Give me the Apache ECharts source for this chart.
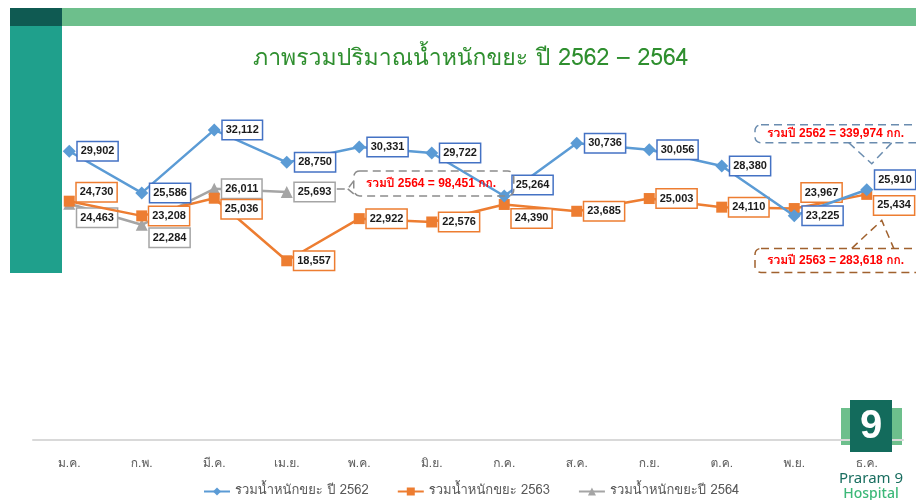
<!DOCTYPE html>
<html>
<head>
<meta charset="utf-8">
<script src="https://cdn.jsdelivr.net/npm/echarts@6/dist/echarts.min.js"></script>
<style>
html,body{margin:0;padding:0;background:#fff;}
#chart{width:916px;height:500px;}
</style>
</head>
<body>
<div id="chart"></div>
<script>
// ---- data ----
const categories = ['ม.ค.','ก.พ.','มี.ค.','เม.ย.','พ.ค.','มิ.ย.','ก.ค.','ส.ค.','ก.ย.','ต.ค.','พ.ย.','ธ.ค.'];
const waste2562 = [29902,25586,32112,28750,30331,29722,25264,30736,30056,28380,23225,25910];
const waste2563 = [24730,23208,25036,18557,22922,22576,24390,23685,25003,24110,23967,25434];
const waste2564 = [24463,22284,26011,25693];
const seriesNames = ['รวมน้ำหนักขยะ ปี 2562','รวมน้ำหนักขยะ 2563','รวมน้ำหนักขยะปี 2564'];
const totalTexts = ['รวมปี 2562 = 339,974 กก.','รวมปี 2563 = 283,618 กก.','รวมปี 2564 = 98,451 กก.'];
const titleText = 'ภาพรวมปริมาณน้ำหนักขยะ ปี 2562 – 2564';

// ---- styles ----
const shift2562 = [0,0,0,0,0,0,-11,0,0,0,0,-10];
const shift2563 = [-9,0,11,0,0,0,14,0,0,0,-16,11];
const shift2564 = [14,13,0,0];
const FONT = 'Arial, "Liberation Sans", sans-serif';
const THAI = 'Tahoma, Loma, Garuda, "Noto Sans Thai Looped", "Noto Sans Thai", "Noto Sans", sans-serif';
const MIX = 'Arial, "Liberation Sans", Loma, Garuda, "Noto Sans Thai", sans-serif';

function buildData(vals, shifts, border) {
  return vals.map((v, i) => ({
    value: v,
    label: { offset: [0, shifts[i] || 0], borderColor: border }
  }));
}
function labelStyle(border) {
  return {
    show: true, position: 'right', distance: 2,
    formatter: p => echarts.format.addCommas(p.value),
    color: '#1a1a1a', fontWeight: 'bold', fontSize: 11, fontFamily: FONT,
    backgroundColor: '#fff', borderColor: border, borderWidth: 1.5,
    padding: [4, 3, 3, 3]
  };
}

const chart = echarts.init(document.getElementById('chart'), null, {renderer: 'canvas'});
chart.setOption({
  animation: false,
  backgroundColor: '#fff',
  title: {
    text: titleText, left: 248, top: 43,
    textStyle: { color: '#2f8f2f', fontSize: 23, fontWeight: 'normal', fontFamily: THAI }
  },
  grid: { left: 33, right: 13, top: 102, bottom: 60 },
  xAxis: {
    type: 'category', data: categories, boundaryGap: true,
    axisLine: { lineStyle: { color: '#d9d9d9', width: 2 } },
    axisTick: { show: false },
    axisLabel: { color: '#595959', fontSize: 12, margin: 18, fontFamily: THAI }
  },
  yAxis: { type: 'value', min: 0, max: 35000, show: false, splitLine: { show: false } },
  legend: {
    left: 198, top: 480, itemWidth: 26, itemHeight: 10, itemGap: 28,
    textStyle: { color: '#595959', fontSize: 13, fontFamily: THAI },
    data: seriesNames
  },
  series: [
    {
      name: seriesNames[0], type: 'line', data: buildData(waste2562, shift2562, '#4472c4'),
      symbol: 'diamond', symbolSize: 13,
      lineStyle: { color: '#5b9bd5', width: 2.5 }, itemStyle: { color: '#5b9bd5' },
      label: labelStyle('#4472c4'), z: 4
    },
    {
      name: seriesNames[1], type: 'line', data: buildData(waste2563, shift2563, '#ed7d31'),
      symbol: 'rect', symbolSize: 11,
      lineStyle: { color: '#ed7d31', width: 2.5 }, itemStyle: { color: '#ed7d31' },
      label: labelStyle('#ed7d31'), z: 3
    },
    {
      name: seriesNames[2], type: 'line', data: buildData(waste2564, shift2564, '#a5a5a5'),
      symbol: 'triangle', symbolSize: 12,
      lineStyle: { color: '#a5a5a5', width: 2.5 }, itemStyle: { color: '#a5a5a5' },
      label: labelStyle('#a5a5a5'), z: 2
    }
  ]
});

// ---- decorations & callouts anchored on data points ----
const p62 = chart.convertToPixel({ seriesIndex: 0 }, [11, waste2562[11]]);
const p63 = chart.convertToPixel({ seriesIndex: 1 }, [11, waste2563[11]]);
const p64 = chart.convertToPixel({ seriesIndex: 2 }, [3, waste2564[3]]);

function dashLine(points, color) {
  return { type: 'polyline', shape: { points }, z: 20,
    style: { fill: null, stroke: color, lineWidth: 1.5, lineDash: [8, 5] } };
}
function callout(x, y, w, h, color, tails, text) {
  const out = [
    { type: 'rect', shape: { x, y, width: w, height: h, r: 6 }, z: 20,
      style: { fill: 'rgba(255,255,255,0)', stroke: color, lineWidth: 1.5, lineDash: [8, 5] } },
    { type: 'text', x: x + 12, y: y + h / 2, z: 21,
      style: { text, fill: '#ff0000', font: 'bold 12px ' + MIX, verticalAlign: 'middle' } }
  ];
  tails.forEach(t => out.push(dashLine(t, color)));
  return out;
}

const b64x = p64[0] + 67, b64y = p64[1] - 21;
const b62x = 755, b62y = p62[1] - 65;
const b63x = 755, b63y = p63[1] + 54;

const graphics = [
  // top banner
  { type: 'rect', shape: { x: 10, y: 8, width: 52, height: 18 }, style: { fill: '#0f5a52' }, z: 0 },
  { type: 'rect', shape: { x: 62, y: 8, width: 854, height: 18 }, style: { fill: '#6dbf8c' }, z: 0 },
  { type: 'rect', shape: { x: 10, y: 26, width: 52, height: 247 }, style: { fill: '#1fa08c' }, z: 0 },
  // logo
  { type: 'rect', shape: { x: 841, y: 408, width: 61, height: 37 }, style: { fill: '#6dbf8c' }, z: 0 },
  { type: 'rect', shape: { x: 850, y: 400, width: 42, height: 52 }, style: { fill: '#136b5c' }, z: 1 },
  { type: 'text', x: 871, y: 427, z: 2, style: { text: '9', fill: '#fff', font: 'bold 40px Arial', align: 'center', verticalAlign: 'middle' } },
  { type: 'text', x: 871, y: 479, z: 2, style: { text: 'Praram 9', fill: '#1a6e60', font: '15px "Noto Sans", Arial', align: 'center', verticalAlign: 'middle' } },
  { type: 'text', x: 871, y: 494, z: 2, style: { text: 'Hospital', fill: '#3cb878', font: '500 14px "Noto Sans", Arial', align: 'center', verticalAlign: 'middle' } }
]
.concat(callout(b64x, b64y, 160, 25, '#8c8c8c',
  [[[b64x, b64y + 10], [b64x - 6, b64y + 18], [p64[0] + 48, b64y + 18]],
   [[b64x - 6, b64y + 18], [b64x, b64y + 23]]],
  totalTexts[2]))
.concat(callout(b62x, b62y, 175, 18, '#6a8caf',
  [[[p62[0] - 18, b62y + 18], [p62[0] + 5, p62[1] - 26], [p62[0] + 25, b62y + 18]]],
  totalTexts[0]))
.concat(callout(b63x, b63y, 175, 24, '#a0612e',
  [[[p63[0] - 15, b63y], [p63[0] + 15, p63[1] + 26], [p63[0] + 27, b63y]]],
  totalTexts[1]));

chart.setOption({ graphic: graphics });
</script>
</body>
</html>
